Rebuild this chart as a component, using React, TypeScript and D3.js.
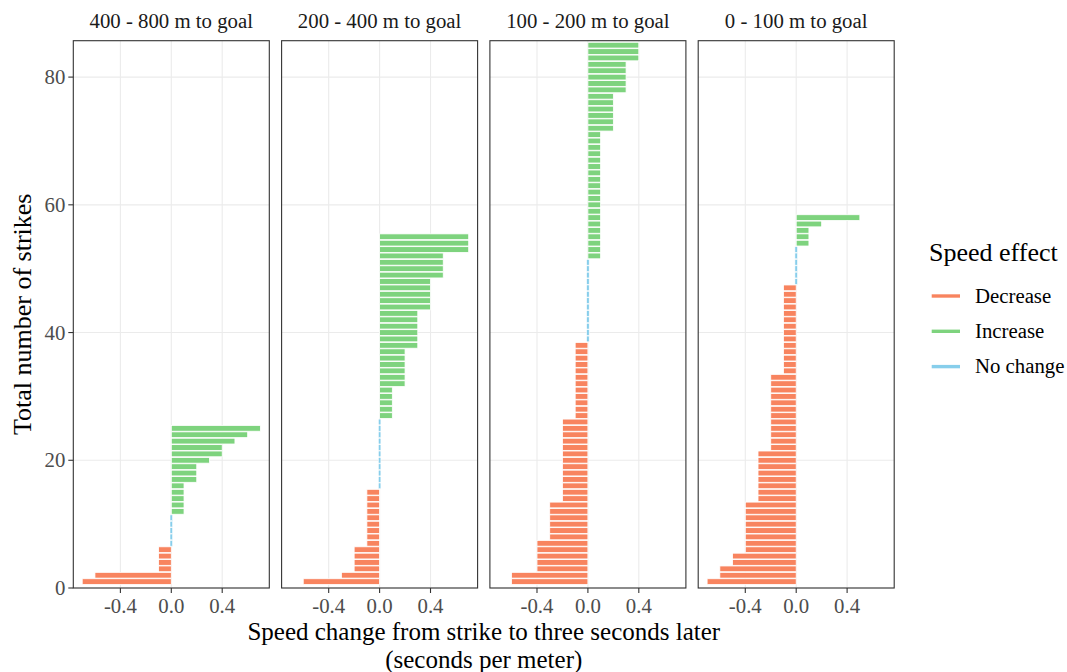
import React from 'react';
import * as d3 from 'd3';

// Facet titles, left to right
const facets = ['400 - 800 m to goal', '200 - 400 m to goal', '100 - 200 m to goal', '0 - 100 m to goal'];

// Speed change per strike (seconds per meter), sorted, strike 1 at the bottom
const far400to800 = [
  -0.7, -0.6, -0.1, -0.1, -0.1, -0.1,
  0, 0, 0, 0, 0,
  0.1, 0.1, 0.1, 0.1, 0.1, 0.2, 0.2, 0.2, 0.3, 0.4, 0.4, 0.5, 0.6, 0.7,
];
const mid200to400 = [
  -0.6, -0.3, -0.2, -0.2, -0.2, -0.2,
  -0.1, -0.1, -0.1, -0.1, -0.1, -0.1, -0.1, -0.1, -0.1,
  0, 0, 0, 0, 0, 0, 0, 0, 0, 0, 0,
  0.1, 0.1, 0.1, 0.1, 0.1, 0.2, 0.2, 0.2, 0.2, 0.2, 0.2,
  0.3, 0.3, 0.3, 0.3, 0.3, 0.3, 0.4, 0.4, 0.4, 0.4, 0.4,
  0.5, 0.5, 0.5, 0.5, 0.7, 0.7, 0.7,
];
const near100to200 = [
  -0.6, -0.6, -0.4, -0.4, -0.4, -0.4, -0.4,
  -0.3, -0.3, -0.3, -0.3, -0.3, -0.3,
  -0.2, -0.2, -0.2, -0.2, -0.2, -0.2, -0.2, -0.2, -0.2, -0.2, -0.2, -0.2, -0.2,
  -0.1, -0.1, -0.1, -0.1, -0.1, -0.1, -0.1, -0.1, -0.1, -0.1, -0.1, -0.1,
  0, 0, 0, 0, 0, 0, 0, 0, 0, 0, 0, 0, 0,
  0.1, 0.1, 0.1, 0.1, 0.1, 0.1, 0.1, 0.1, 0.1, 0.1,
  0.1, 0.1, 0.1, 0.1, 0.1, 0.1, 0.1, 0.1, 0.1, 0.1,
  0.2, 0.2, 0.2, 0.2, 0.2, 0.2, 0.3, 0.3, 0.3, 0.3, 0.3, 0.4, 0.4, 0.4,
];
const close0to100 = [
  -0.7, -0.6, -0.6, -0.5, -0.5,
  -0.4, -0.4, -0.4, -0.4, -0.4, -0.4, -0.4, -0.4,
  -0.3, -0.3, -0.3, -0.3, -0.3, -0.3, -0.3, -0.3,
  -0.2, -0.2, -0.2, -0.2, -0.2, -0.2, -0.2, -0.2, -0.2, -0.2, -0.2, -0.2,
  -0.1, -0.1, -0.1, -0.1, -0.1, -0.1, -0.1, -0.1, -0.1, -0.1, -0.1, -0.1, -0.1, -0.1,
  0, 0, 0, 0, 0, 0,
  0.1, 0.1, 0.1, 0.2, 0.5,
];
const panelValues = [far400to800, mid200to400, near100to200, close0to100];

const xTicks = [-0.4, 0, 0.4];
const yTicks = [0, 20, 40, 60, 80];
const effects = ['Decrease', 'Increase', 'No change'];
const effectColors = ['#F8845F', '#7ED37E', '#87CEEB'];

const FONT = 'Liberation Serif';

export default function App() {
  const width = 1067;
  const height = 672;
  const left = 73.3;
  const top = 40.7;
  const bottom = 588;
  const panelW = 196;
  const gap = 12.3;

  const x = d3.scaleLinear().domain([-0.77, 0.77]).range([0, panelW]);
  const y = d3.scaleLinear().domain([0, 85.7]).range([bottom, top]);
  const color = d3.scaleOrdinal<string, string>().domain(effects).range(effectColors);
  const effectOf = (v: number) => (v < 0 ? 'Decrease' : v > 0 ? 'Increase' : 'No change');
  const barH = y(0) - y(0.9);
  const small = { fontFamily: FONT, fontSize: '20.8px' };
  const big = { fontFamily: FONT, fontSize: '26px' };
  const titleX = left + (4 * panelW + 3 * gap) / 2;

  return (
    <svg width={width} height={height} style={{ position: 'absolute', left: 0, top: 0, background: '#fff' }}>
      <rect width={width} height={height} fill="#fff" />
      {panelValues.map((vals, p) => {
        const px = left + p * (panelW + gap);
        return (
          <g key={p} transform={`translate(${px},0)`}>
            {/* grid */}
            {xTicks.map(t => (
              <line key={'gx' + t} x1={x(t)} x2={x(t)} y1={top} y2={bottom} stroke="#EBEBEB" strokeWidth={1.1} />
            ))}
            {yTicks.map(t => (
              <line key={'gy' + t} x1={0} x2={panelW} y1={y(t)} y2={y(t)} stroke="#EBEBEB" strokeWidth={1.1} />
            ))}
            {/* bars */}
            {vals.map((v, i) => {
              const eff = effectOf(v);
              const cy = y(i + 1);
              if (eff === 'No change') {
                return (
                  <rect key={i} x={x(0) - 1.3} y={cy - barH / 2} width={2.6} height={barH}
                    fill={color(eff)} stroke="#fff" strokeWidth={0.6} />
                );
              }
              const x0 = Math.min(x(0), x(v));
              return (
                <rect key={i} x={x0} y={cy - barH / 2} width={Math.abs(x(v) - x(0))} height={barH}
                  fill={color(eff)} stroke="#fff" strokeWidth={0.8} />
              );
            })}
            {/* border */}
            <rect x={0} y={top} width={panelW} height={bottom - top} fill="none" stroke="#333" strokeWidth={1.1} />
            {/* x ticks */}
            {xTicks.map(t => (
              <g key={'tx' + t}>
                <line x1={x(t)} x2={x(t)} y1={bottom} y2={bottom + 5} stroke="#333" strokeWidth={1.1} />
                <text x={x(t)} y={bottom + 24.5} textAnchor="middle" style={small} fill="#4D4D4D">
                  {t === 0 ? '0.0' : t.toFixed(1)}
                </text>
              </g>
            ))}
            {/* strip */}
            <text x={panelW / 2} y={28} textAnchor="middle" style={small} fill="#1A1A1A">{facets[p]}</text>
          </g>
        );
      })}
      {/* y axis */}
      {yTicks.map(t => (
        <g key={'ty' + t}>
          <line x1={left - 5} x2={left} y1={y(t)} y2={y(t)} stroke="#333" strokeWidth={1.1} />
          <text x={left - 8} y={y(t) + 7} textAnchor="end" style={small} fill="#4D4D4D">{t}</text>
        </g>
      ))}
      <text transform={`translate(31,${(top + bottom) / 2}) rotate(-90)`} textAnchor="middle" style={big} fill="#000">
        Total number of strikes
      </text>
      {/* x title, two lines */}
      <text x={titleX} y={640} textAnchor="middle" style={{ fontFamily: FONT, fontSize: '25px' }} fill="#000">
        Speed change from strike to three seconds later
      </text>
      <text x={titleX} y={668} textAnchor="middle" style={{ fontFamily: FONT, fontSize: '25px' }} fill="#000">
        (seconds per meter)
      </text>
      {/* legend */}
      <text x={929} y={261} style={big} fill="#000">Speed effect</text>
      {effects.map((e, i) => (
        <g key={e}>
          <line x1={931.7} x2={960} y1={296 + i * 35.3} y2={296 + i * 35.3} stroke={color(e)} strokeWidth={3.4} />
          <text x={975} y={302.7 + i * 35.3} style={small} fill="#000">{e}</text>
        </g>
      ))}
    </svg>
  );
}
